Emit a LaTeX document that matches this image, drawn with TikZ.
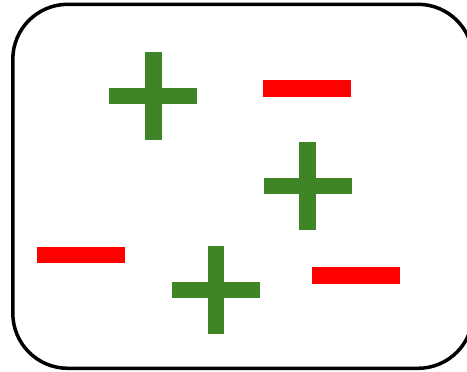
\documentclass[tikz,border=0pt]{standalone}
\definecolor{plusgreen}{RGB}{63,132,38}
\definecolor{minusred}{RGB}{255,0,0}
\tikzset{
  frame/.style={draw=black, line width=3pt, rounded corners=1.65cm},
  chargeplus/.pic={
    \fill[plusgreen] (-44,-8.2) rectangle (44,8.2);
    \fill[plusgreen] (-8.2,-44) rectangle (8.2,44);
  },
  chargeminus/.pic={
    \fill[minusred] (-44,-8.3) rectangle (44,8.3);
  }
}
\begin{document}
\begin{tikzpicture}[x=0.03cm, y=-0.03cm]
\useasboundingbox (0,0) rectangle (467,372);
\clip (0,0) rectangle (467,372);
\draw[frame] (12.8,4.3) rectangle (473,368.3);
% plus signs
\pic (plusA) at (153.3,96.3) {chargeplus};
\pic (plusB) at (307.5,186) {chargeplus};
\pic (plusC) at (216,290.3) {chargeplus};
% minus signs
\pic (minusA) at (307.2,88.3) {chargeminus};
\pic (minusB) at (81.3,255) {chargeminus};
\pic (minusC) at (356.2,275.6) {chargeminus};
\end{tikzpicture}
\end{document}
